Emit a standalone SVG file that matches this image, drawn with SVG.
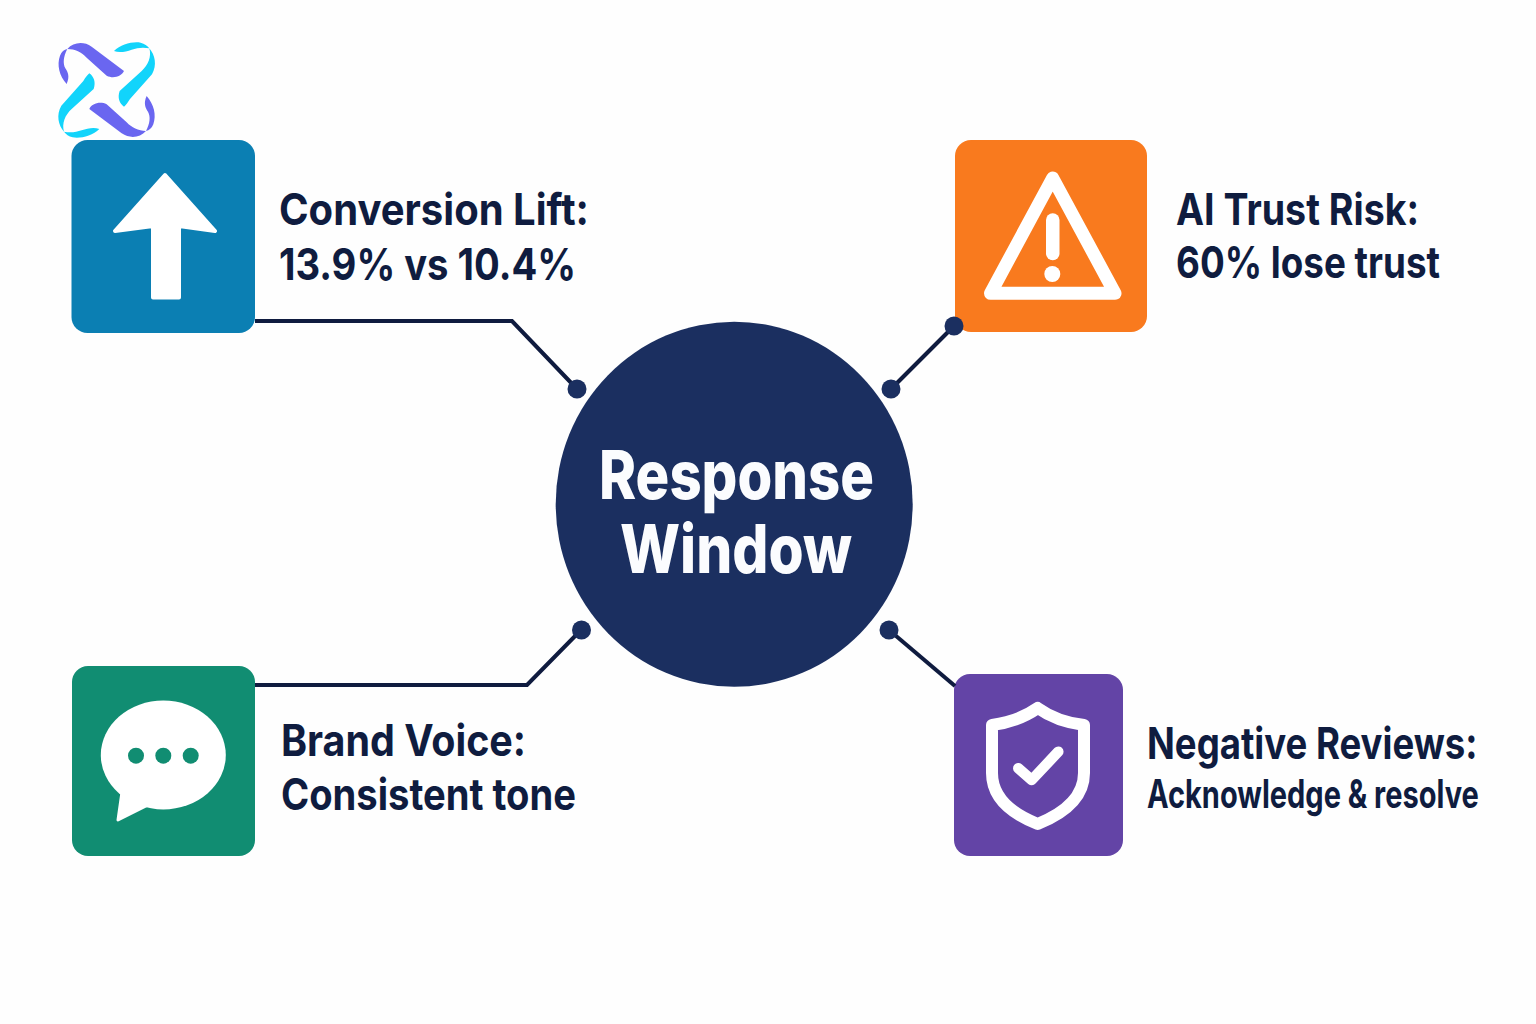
<svg xmlns="http://www.w3.org/2000/svg" width="1536" height="1024" viewBox="0 0 1536 1024">
<style>
.lbl{font-family:"Inter","Liberation Sans",sans-serif;font-weight:700;fill:#0f1c3f;font-size:44px}
.sub{font-size:39px}
.hub{font-family:"Inter","Liberation Sans",sans-serif;font-weight:800;fill:#fbfcfe;font-size:67px}
.conn{fill:none;stroke:#0f1b3f;stroke-width:4;stroke-linejoin:miter}
.dot{fill:#1b2f60;stroke:none}
.ico{fill:#fff}
.icl{fill:none;stroke:#fff;stroke-linejoin:round;stroke-linecap:round}
</style>
<defs>
<path id="lp" fill="#6a66f0" d="M52,42C70,22 100,18 125,35L222,108C215,124 190,132 170,122L110,68C95,52 75,42 52,42ZM50,147C28,122 20,90 30,62C35,50 42,44 52,42C40,65 38,85 46,100C54,112 60,125 50,147Z"/>
<path id="lc" fill="#12d4fb" d="M298,40C315,60 322,90 306,118L240,192C234,202 228,210 222,215C208,205 202,188 209,168L275,108C295,90 305,65 298,40ZM192,48C212,28 250,18 272,23C284,26 292,32 298,40C280,36 262,38 245,44C228,50 208,54 192,48Z"/>
</defs>
<rect width="1536" height="1024" fill="#fefefe"/>
<g id="logo" transform="translate(50 35) scale(.3333)">
<use href="#lp"/>
<use href="#lp" transform="rotate(180 170 165)"/>
<use href="#lc"/>
<use href="#lc" transform="rotate(180 170 165)"/>
</g>
<g id="node-conversion">
<rect x="71.5" y="140" width="183.500" height="193" rx="16" fill="#0b7fb3"/>
<path class="ico" stroke="#fff" stroke-width="4" stroke-linejoin="round" d="M165,175L215,231L179,226V297.500H153V226L115,231Z"/>
<text class="lbl" x="279" y="225" textLength="310" lengthAdjust="spacingAndGlyphs">Conversion Lift:</text>
<text class="lbl" x="279" y="280" textLength="297" lengthAdjust="spacingAndGlyphs">13.9% vs 10.4%</text>
</g>
<g id="node-trust">
<rect x="955" y="140" width="192" height="192" rx="16" fill="#f97a1e"/>
<path class="icl" stroke-width="13" d="M1052.700,178L1115,293.300H990.500Z"/>
<rect class="ico" x="1046" y="213.300" width="13.500" height="47" rx="6.700"/>
<circle class="ico" cx="1052.300" cy="274" r="8"/>
<text class="lbl" x="1176" y="225" textLength="243" lengthAdjust="spacingAndGlyphs">AI Trust Risk:</text>
<text class="lbl" x="1176" y="278" textLength="264" lengthAdjust="spacingAndGlyphs">60% lose trust</text>
</g>
<g id="node-voice">
<rect x="72" y="666" width="183" height="190" rx="16" fill="#118d72"/>
<ellipse class="ico" cx="163.300" cy="755" rx="62.500" ry="54.500"/>
<path class="ico" stroke="#fff" stroke-width="3" stroke-linejoin="round" d="M122,792L118,820L150,804Z"/>
<circle cx="136" cy="755.700" r="8" fill="#118d72"/>
<circle cx="163.300" cy="755.700" r="8" fill="#118d72"/>
<circle cx="190.700" cy="755.700" r="8" fill="#118d72"/>
<text class="lbl" x="281" y="756" textLength="245" lengthAdjust="spacingAndGlyphs">Brand Voice:</text>
<text class="lbl" x="281" y="810" textLength="295" lengthAdjust="spacingAndGlyphs">Consistent tone</text>
</g>
<g id="node-reviews">
<rect x="954" y="674" width="169" height="182" rx="16" fill="#6344a6"/>
<path class="icl" stroke-width="12" d="M1037.700,708C1022,719 1008,723 992,725V773C992,800 1015,815 1037.700,824C1060,815 1084,800 1084,773V725C1067,723 1053,719 1037.700,708Z"/>
<path class="icl" stroke-width="10.500" d="M1018.300,768.300L1031.700,780L1058.300,751.700"/>
<text class="lbl" transform="translate(1147 759) scale(.8 1)" textLength="413" lengthAdjust="spacingAndGlyphs">Negative Reviews:</text>
<text class="lbl sub" transform="translate(1147 808) scale(.7 1)" textLength="474" lengthAdjust="spacingAndGlyphs">Acknowledge &amp; resolve</text>
</g>
<g id="node-hub">
<ellipse cx="734.200" cy="504.200" rx="178.500" ry="182.500" fill="#1b2f60"/>
<text class="hub" x="599" y="499" textLength="275" lengthAdjust="spacingAndGlyphs">Response</text>
<text class="hub" x="620" y="573" textLength="232" lengthAdjust="spacingAndGlyphs">Window</text>
</g>
<g id="connectors">
<path class="conn" d="M255,321H512L577,389"/>
<path class="conn" d="M255,685H527L581,630"/>
<path class="conn" d="M954,326L891,389"/>
<path class="conn" d="M889,630L955,686"/>
<circle class="dot" cx="577" cy="389" r="9.500"/>
<circle class="dot" cx="891" cy="389" r="9.500"/>
<circle class="dot" cx="954" cy="326" r="9.500"/>
<circle class="dot" cx="581.500" cy="630" r="9.500"/>
<circle class="dot" cx="889" cy="630" r="9.500"/>
</g>
</svg>
